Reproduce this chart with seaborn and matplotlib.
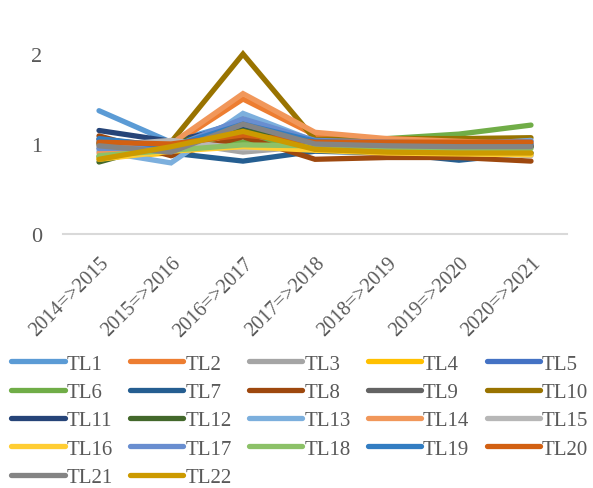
import matplotlib
matplotlib.use("Agg")
import matplotlib.pyplot as plt
import seaborn as sns
import pandas as pd

periods = ["2014=>2015", "2015=>2016", "2016=>2017", "2017=>2018",
           "2018=>2019", "2019=>2020", "2020=>2021"]

TL1 = [1.37, 1.02, 1.25, 1.00, 0.98, 0.97, 0.97]
TL2 = [1.05, 0.98, 1.50, 1.10, 1.02, 0.99, 0.98]
TL3 = [0.95, 1.03, 0.91, 0.98, 0.95, 0.93, 0.88]
TL4 = [0.85, 0.90, 1.28, 0.95, 0.92, 0.90, 0.90]
TL5 = [1.05, 0.97, 1.27, 1.02, 1.00, 0.99, 0.99]
TL6 = [0.86, 0.98, 1.02, 1.04, 1.06, 1.11, 1.21]
TL7 = [1.02, 0.90, 0.81, 0.92, 0.90, 0.82, 0.90]
TL8 = [1.09, 0.87, 1.08, 0.83, 0.85, 0.85, 0.81]
TL9 = [1.00, 0.96, 1.18, 0.99, 0.97, 0.97, 0.97]
TL10 = [1.00, 1.02, 2.00, 1.05, 1.06, 1.06, 1.07]
TL11 = [1.15, 1.03, 1.20, 1.00, 0.98, 0.97, 0.97]
TL12 = [0.80, 1.02, 1.15, 1.00, 0.98, 0.97, 0.97]
TL13 = [0.92, 0.79, 1.34, 1.03, 1.00, 0.99, 1.04]
TL14 = [0.90, 1.00, 1.56, 1.13, 1.06, 1.03, 1.00]
TL15 = [0.98, 1.04, 0.95, 0.97, 0.93, 0.90, 0.87]
TL16 = [0.83, 0.92, 0.97, 0.93, 0.90, 0.89, 0.88]
TL17 = [0.95, 0.96, 1.28, 1.04, 1.02, 1.01, 1.03]
TL18 = [0.87, 0.93, 0.99, 0.98, 0.96, 0.95, 0.95]
TL19 = [1.06, 0.97, 1.22, 1.03, 1.00, 0.99, 1.00]
TL20 = [1.02, 1.00, 1.10, 1.02, 1.02, 1.02, 1.02]
TL21 = [0.98, 0.91, 1.22, 1.00, 0.98, 0.97, 0.97]
TL22 = [0.83, 0.97, 1.14, 0.94, 0.91, 0.90, 0.90]

series = {
    "TL1": TL1, "TL2": TL2, "TL3": TL3, "TL4": TL4, "TL5": TL5, "TL6": TL6,
    "TL7": TL7, "TL8": TL8, "TL9": TL9, "TL10": TL10, "TL11": TL11,
    "TL12": TL12, "TL13": TL13, "TL14": TL14, "TL15": TL15, "TL16": TL16,
    "TL17": TL17, "TL18": TL18, "TL19": TL19, "TL20": TL20, "TL21": TL21,
    "TL22": TL22,
}

colors = ["#5B9BD5", "#ED7D31", "#A5A5A5", "#FFC000", "#4472C4", "#70AD47",
          "#255E91", "#9E480E", "#636363", "#997300", "#264478", "#43682B",
          "#7CAFDD", "#F1975A", "#B7B7B7", "#FFCD33", "#698ED0", "#8CC168",
          "#327DC2", "#D26012", "#848484", "#CC9A00"]

rows = []
for name, vals in series.items():
    for p, v in zip(periods, vals):
        rows.append({"period": p, "value": v, "series": name})
df = pd.DataFrame(rows)

sns.set_theme(style="white")
plt.rcParams["font.family"] = ["Liberation Serif", "DejaVu Serif"]
text_color = "#595959"

fig = plt.figure(figsize=(5.93, 4.89), dpi=100)
ax = fig.add_axes([63 / 593, 1 - 235 / 489, (567 - 63) / 593, (235 - 55) / 489])

sns.lineplot(data=df, x="period", y="value", hue="series",
             palette=colors, linewidth=3.8, sort=False, ax=ax,
             legend="full")

for ln in ax.get_lines():
    ln.set_solid_capstyle("round")
    ln.set_solid_joinstyle("miter")
    ln.set_clip_on(False)

handles, labels = ax.get_legend_handles_labels()
ax.get_legend().remove()
for h in handles:
    h.set_linewidth(3.8)
    h.set_solid_capstyle("round")

# legend fills column by column; reorder so entries read across rows
ncol = 5
order = [i for c in range(ncol) for i in range(c, len(handles), ncol)]
handles = [handles[i] for i in order]
labels = [labels[i] for i in order]

ax.set_xlim(-0.5, 6.5)
ax.set_ylim(0, 2)
ax.set_yticks([0, 1, 2])
ax.set_xlabel("")
ax.set_ylabel("")

for s in ["top", "right", "left"]:
    ax.spines[s].set_visible(False)
ax.spines["bottom"].set_color("#D9D9D9")
ax.spines["bottom"].set_linewidth(1.5)
ax.grid(False)

ax.tick_params(axis="y", length=0, pad=15, labelsize=16, labelcolor=text_color)
ax.tick_params(axis="x", length=0, pad=14, labelsize=14.5, labelcolor=text_color)
for lab in ax.get_xticklabels():
    lab.set_rotation(45)
    lab.set_ha("right")
    lab.set_rotation_mode("anchor")

leg = fig.legend(handles, labels, ncol=ncol, loc="upper left",
                 bbox_to_anchor=(7 / 593, 1 - 351 / 489),
                 frameon=False, fontsize=15, handlelength=2.56,
                 handletextpad=0.1, columnspacing=0.82, labelspacing=0.42,
                 borderpad=0.2, borderaxespad=0)
for t in leg.get_texts():
    t.set_color(text_color)

fig.savefig("out.png", dpi=100)
